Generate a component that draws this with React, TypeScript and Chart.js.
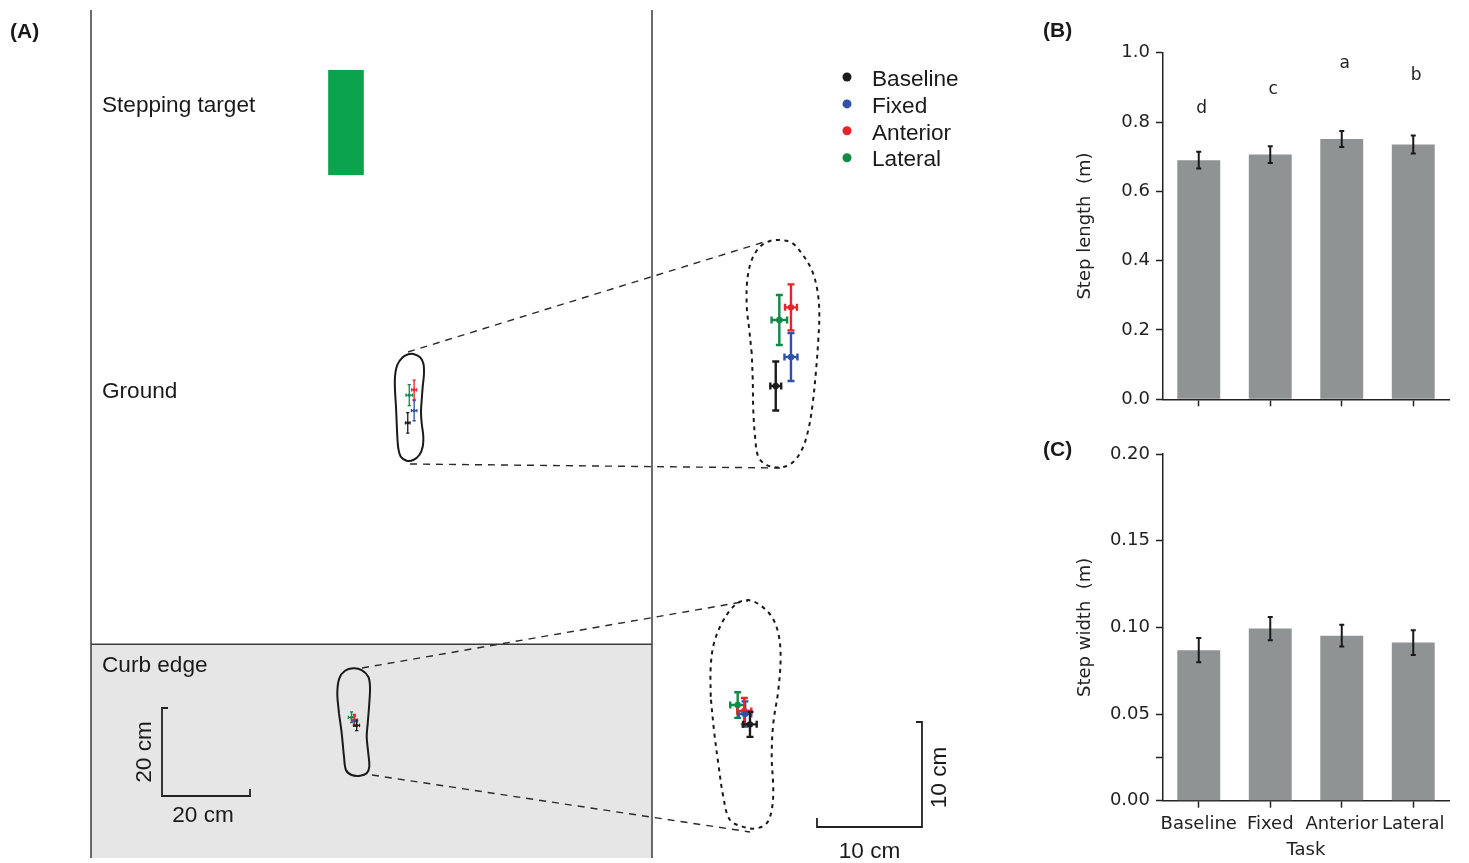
import React, { useEffect, useRef } from 'react';
import { Chart, registerables } from 'chart.js';

Chart.register(...registerables);

// ---------------- shared ----------------
const conditions = ['Baseline', 'Fixed', 'Anterior', 'Lateral'];
const conditionColors = ['#1c1c1c', '#2f51a7', '#e8232b', '#108a47'];

// ---------------- Panel B: step length (m) ----------------
const stepLengthMean = [0.69, 0.706, 0.751, 0.735];
const stepLengthSd = [0.024, 0.024, 0.023, 0.026];
const stepLengthLetters = ['d', 'c', 'a', 'b'];
const stepLengthLetterAt = [0.825, 0.881, 0.957, 0.921];
const stepLengthTicks = [0, 0.2, 0.4, 0.6, 0.8, 1.0];
const stepLengthTickLabels = ['0.0', '0.2', '0.4', '0.6', '0.8', '1.0'];

// ---------------- Panel C: step width (m) ----------------
const stepWidthMean = [0.0868, 0.0993, 0.0952, 0.0912];
const stepWidthSd = [0.007, 0.0067, 0.0063, 0.0071];
const stepWidthTicks = [0, 0.025, 0.05, 0.1, 0.15, 0.2];
const stepWidthTickLabels = ['0.00', '', '0.05', '0.10', '0.15', '0.20'];

// ---------------- Panel A: foot placement relative to foot centre (cm) ----------------
const groundMeanX = [-0.74, 0.71, 0.71, -0.4];
const groundMeanY = [-3.14, -0.38, 4.35, 3.14];
const groundSdX = [0.52, 0.62, 0.57, 0.74];
const groundSdY = [2.33, 2.29, 2.19, 2.38];
const curbMeanX = [0.38, -0.1, -0.16, -0.79];
const curbMeanY = [-0.89, 0.1, 0.38, 0.95];
const curbSdX = [0.64, 0.6, 0.67, 0.71];
const curbSdY = [1.19, 1.2, 1.24, 1.22];

// Foot outlines (cm, relative to foot centre)
const groundFootOutline = [
  [-3.41, 0.52], [-3.64, 4.32], [-3.64, 7.34], [-3.11, 10.0], [-1.89, 11.75], [-0.61, 12.43],
  [0.52, 12.5], [2.05, 11.75], [2.8, 10.39], [2.95, 8.11], [2.66, 5.07], [2.43, 2.05],
  [2.27, -0.61], [2.43, -3.25], [2.8, -6.3], [2.66, -8.57], [1.89, -10.45], [0.52, -11.59],
  [-0.98, -11.75], [-2.34, -10.84], [-2.89, -8.93], [-3.11, -6.3], [-3.25, -3.25],
];
const groundInsetOutline = [
  [-3.03, -0.03], [-3.26, 2.19], [-3.5, 4.41], [-3.45, 6.95], [-3.03, 8.86], [-2.24, 10.12],
  [-1.29, 10.67], [-0.33, 10.76], [0.78, 10.5], [1.73, 9.5], [2.69, 7.9], [3.22, 6.0],
  [3.41, 3.78], [3.31, 1.24], [3.1, -1.62], [2.78, -4.79], [2.36, -7.33], [1.73, -9.24],
  [0.78, -10.5], [-0.33, -10.89], [-1.6, -10.67], [-2.4, -9.88], [-2.71, -7.97], [-2.88, -5.43],
  [-2.93, -2.57],
];
const curbFootOutline = [
  [-3.64, 1.86], [-4.02, 6.41], [-3.57, 9.82], [-2.27, 11.55], [-0.39, 12.09], [1.52, 11.7],
  [3.02, 10.18], [3.41, 7.91], [3.25, 4.14], [2.89, -0.41], [2.66, -3.45], [3.02, -7.23],
  [3.25, -10.27], [2.66, -11.77], [1.14, -12.32], [-0.75, -12.16], [-2.05, -11.02], [-2.5, -8.0],
  [-3.02, -2.68],
];
const curbInsetOutline = [
  [-3.36, 1.74], [-3.36, 4.6], [-3.05, 6.83], [-2.31, 8.73], [-1.36, 10.16], [-0.57, 10.79],
  [0.22, 10.95], [1.33, 10.48], [2.45, 9.36], [3.08, 7.78], [3.3, 5.55], [3.08, 2.38],
  [2.6, -0.79], [2.45, -3.97], [2.6, -7.14], [2.45, -9.05], [1.97, -10.31], [1.02, -10.79],
  [-0.1, -10.7], [-1.52, -10.0], [-2.16, -7.78], [-2.64, -4.6], [-3.05, -1.43],
];
// connector end points (foot-local cm): [small foot point, inset point]
const groundConnectors = [
  [[-0.68, 12.95], [-1.76, 10.6]],
  [[-0.23, -12.5], [-0.33, -10.95]],
];
const curbConnectors = [
  [[1.59, 12.16], [0.19, 10.86]],
  [[3.86, -12.16], [0.38, -11.14]],
];

// ---------------- Panel A scene layout (ground frame, cm) ----------------
const X_MAX = 940 / 4.4;
const Y_MAX = 848 / 4.4;
const GROUND_WIDTH = 127.5;
const CURB_EDGE = 48.6;
const ZOOM = 10.5 / 4.4;
const TARGET = { x0: 53.9, x1: 62.0, y0: 155.2, y1: 179.1 };
const placements = [
  { mx: groundMeanX, my: groundMeanY, sx: groundSdX, sy: groundSdY },
  { mx: curbMeanX, my: curbMeanY, sx: curbSdX, sy: curbSdY },
];
const feet = [
  { cx: 72.73, cy: 102.05, k: 1, outline: groundFootOutline, dashed: false, surface: 0 },
  { cx: 157.39, cy: 114.77, k: ZOOM, outline: groundInsetOutline, dashed: true, surface: 0 },
  { cx: 60.0, cy: 31.02, k: 1, outline: curbFootOutline, dashed: false, surface: 1 },
  { cx: 148.86, cy: 32.5, k: ZOOM, outline: curbInsetOutline, dashed: true, surface: 1 },
];
const connectorSets = [
  { from: 0, to: 1, pts: groundConnectors },
  { from: 2, to: 3, pts: curbConnectors },
];
const drawOrder = [3, 1, 2, 0];
const SANS = '"Liberation Sans", Arial, sans-serif';
const DEJAVU = '"DejaVu Sans", sans-serif';
const INK = '#1a1a1a';

function toFig(f: any, u: number, v: number) {
  return { x: f.cx + u * f.k, y: f.cy + v * f.k };
}

const panelAPlugin = {
  id: 'panelA',
  beforeDatasetsDraw(chart: any) {
    const { ctx } = chart;
    const X = (v: number) => chart.scales.x.getPixelForValue(v);
    const Y = (v: number) => chart.scales.y.getPixelForValue(v);
    ctx.save();
    ctx.fillStyle = '#e6e6e6';
    ctx.fillRect(X(0), Y(CURB_EDGE), X(GROUND_WIDTH) - X(0), Y(0) - Y(CURB_EDGE));
    ctx.strokeStyle = '#3c3c3c';
    ctx.lineWidth = 1.5;
    ctx.beginPath();
    ctx.moveTo(X(0), Y(Y_MAX));
    ctx.lineTo(X(0), Y(0));
    ctx.moveTo(X(GROUND_WIDTH), Y(Y_MAX));
    ctx.lineTo(X(GROUND_WIDTH), Y(0));
    ctx.moveTo(X(0), Y(CURB_EDGE));
    ctx.lineTo(X(GROUND_WIDTH), Y(CURB_EDGE));
    ctx.stroke();
    ctx.fillStyle = '#0ba34c';
    ctx.fillRect(X(TARGET.x0), Y(TARGET.y1), X(TARGET.x1) - X(TARGET.x0), Y(TARGET.y0) - Y(TARGET.y1));

    feet.forEach((f) => {
      const p = placements[f.surface];
      const big = f.k > 1;
      ctx.lineWidth = big ? 2.4 : 1.3;
      const cap = big ? 3.5 : 1.6;
      drawOrder.forEach((c) => {
        const cx = f.cx + p.mx[c] * f.k;
        const cy = f.cy + p.my[c] * f.k;
        const xl = X(cx - p.sx[c] * f.k), xr = X(cx + p.sx[c] * f.k);
        const yt = Y(cy + p.sy[c] * f.k), yb = Y(cy - p.sy[c] * f.k);
        const px = X(cx), py = Y(cy);
        ctx.strokeStyle = conditionColors[c];
        ctx.beginPath();
        ctx.moveTo(xl, py); ctx.lineTo(xr, py);
        ctx.moveTo(xl, py - cap); ctx.lineTo(xl, py + cap);
        ctx.moveTo(xr, py - cap); ctx.lineTo(xr, py + cap);
        ctx.moveTo(px, yt); ctx.lineTo(px, yb);
        ctx.moveTo(px - cap, yt); ctx.lineTo(px + cap, yt);
        ctx.moveTo(px - cap, yb); ctx.lineTo(px + cap, yb);
        ctx.stroke();
      });
    });
    ctx.restore();
  },
  afterDraw(chart: any) {
    const { ctx } = chart;
    const X = (v: number) => chart.scales.x.getPixelForValue(v);
    const Y = (v: number) => chart.scales.y.getPixelForValue(v);
    ctx.save();
    ctx.fillStyle = INK;
    ctx.textBaseline = 'middle';
    ctx.textAlign = 'left';
    ctx.font = `bold 21px ${SANS}`;
    ctx.fillText('(A)', 10, 32);
    ctx.font = `22.6px ${SANS}`;
    ctx.fillText('Stepping target', 102, 106);
    ctx.fillText('Ground', 102, 392);
    ctx.fillText('Curb edge', 102, 666);

    // legend
    conditions.forEach((name, i) => {
      ctx.fillStyle = conditionColors[i];
      ctx.beginPath();
      ctx.arc(847, 77 + i * 26.9, 4.5, 0, Math.PI * 2);
      ctx.fill();
      ctx.fillStyle = INK;
      ctx.fillText(name, 872, 79.5 + i * 26.9);
    });

    // scale bars
    ctx.strokeStyle = '#222';
    ctx.lineWidth = 1.8;
    const sb = { x: 16.14, y: 14.09, len: 20 };
    const x0 = X(sb.x), y0 = Y(sb.y), xe = X(sb.x + sb.len), ye = Y(sb.y + sb.len);
    ctx.beginPath();
    ctx.moveTo(x0 + 6, ye); ctx.lineTo(x0, ye); ctx.lineTo(x0, y0); ctx.lineTo(xe, y0); ctx.lineTo(xe, y0 - 7);
    ctx.stroke();
    const ib = { x: 188.86, y: 7.05, len: 10 };
    const ix0 = X(ib.x), iy0 = Y(ib.y), ixs = X(ib.x - ib.len * ZOOM), iye = Y(ib.y + ib.len * ZOOM);
    ctx.beginPath();
    ctx.moveTo(ixs, iy0 - 9); ctx.lineTo(ixs, iy0); ctx.lineTo(ix0, iy0); ctx.lineTo(ix0, iye); ctx.lineTo(ix0 - 6, iye);
    ctx.stroke();

    ctx.fillStyle = INK;
    ctx.textAlign = 'center';
    ctx.fillText('20 cm', X(sb.x + sb.len / 2) - 3, y0 + 20);
    ctx.fillText('10 cm', X(ib.x - (ib.len * ZOOM) / 2), iy0 + 25);
    const vText = (t: string, x: number, y: number) => {
      ctx.save();
      ctx.translate(x, y);
      ctx.rotate(-Math.PI / 2);
      ctx.fillText(t, 0, 0);
      ctx.restore();
    };
    vText('20 cm', x0 - 17, Y(sb.y + sb.len / 2));
    vText('10 cm', ix0 + 18, Y(ib.y + (ib.len * ZOOM) / 2) + 3);
    ctx.restore();
  },
};

function buildPanelA(canvas: HTMLCanvasElement) {
  const datasets: any[] = [];
  conditions.forEach((name, c) => {
    datasets.push({
      label: name,
      data: feet.map((f) => {
        const p = placements[f.surface];
        return toFig(f, p.mx[c], p.my[c]);
      }),
      backgroundColor: conditionColors[c],
      borderWidth: 0,
      pointRadius: feet.map((f) => (f.k > 1 ? 3.2 : 1.6)),
      showLine: false,
    });
  });
  feet.forEach((f, i) => {
    datasets.push({
      label: 'foot' + i,
      data: [...f.outline, f.outline[0]].map(([u, v]) => toFig(f, u, v)),
      showLine: true,
      borderColor: INK,
      borderWidth: 2,
      borderDash: f.dashed ? [4, 4.5] : [],
      tension: 0.35,
      pointRadius: 0,
      fill: false,
    });
  });
  connectorSets.forEach((cs) => {
    cs.pts.forEach(([a, b], j) => {
      datasets.push({
        label: 'conn' + j,
        data: [toFig(feet[cs.from], a[0], a[1]), toFig(feet[cs.to], b[0], b[1])],
        showLine: true,
        borderColor: '#2a2a2a',
        borderWidth: 1.4,
        borderDash: [7, 6],
        tension: 0,
        pointRadius: 0,
        fill: false,
      });
    });
  });
  return new Chart(canvas, {
    type: 'scatter',
    data: { datasets },
    options: {
      responsive: false,
      animation: false,
      devicePixelRatio: 1,
      events: [],
      layout: { padding: { left: 91, top: 10, right: 9, bottom: 5 } },
      scales: {
        x: { type: 'linear', display: false, min: 0, max: X_MAX },
        y: { type: 'linear', display: false, min: 0, max: Y_MAX },
      },
      plugins: { legend: { display: false }, tooltip: { enabled: false } },
    } as any,
    plugins: [panelAPlugin],
  });
}

function buildBarChart(
  canvas: HTMLCanvasElement,
  o: {
    means: number[]; sds: number[]; max: number; ticks: number[]; tickLabels: string[];
    yTitle: string; showX: boolean; padTop: number; xHeight: number;
    panel: string; panelY: number; letters?: string[]; letterAt?: number[];
  }
) {
  const extras = {
    id: 'barExtras',
    afterDatasetsDraw(chart: any) {
      const { ctx } = chart;
      const xs = chart.scales.x, ys = chart.scales.y;
      ctx.save();
      ctx.strokeStyle = INK;
      ctx.lineWidth = 2;
      o.means.forEach((m, i) => {
        const px = xs.getPixelForValue(i);
        const yt = ys.getPixelForValue(m + o.sds[i]);
        const yb = ys.getPixelForValue(m - o.sds[i]);
        ctx.beginPath();
        ctx.moveTo(px, yt); ctx.lineTo(px, yb);
        ctx.moveTo(px - 2.5, yt); ctx.lineTo(px + 2.5, yt);
        ctx.moveTo(px - 2.5, yb); ctx.lineTo(px + 2.5, yb);
        ctx.stroke();
      });
      ctx.fillStyle = '#222';
      if (o.letters && o.letterAt) {
        ctx.font = `17px ${DEJAVU}`;
        ctx.textAlign = 'center';
        ctx.textBaseline = 'alphabetic';
        o.letters.forEach((l, i) => {
          ctx.fillText(l, xs.getPixelForValue(i) + 3, ys.getPixelForValue(o.letterAt![i]));
        });
      }
      ctx.fillStyle = INK;
      ctx.font = `bold 21px ${SANS}`;
      ctx.textAlign = 'left';
      ctx.textBaseline = 'middle';
      ctx.fillText(o.panel, 3, o.panelY);
      ctx.restore();
    },
  };
  return new Chart(canvas, {
    type: 'bar',
    data: {
      labels: conditions,
      datasets: [
        {
          data: o.means,
          backgroundColor: '#8f9393',
          borderWidth: 0,
          barPercentage: 0.6,
          categoryPercentage: 1,
        },
      ],
    },
    options: {
      responsive: false,
      animation: false,
      devicePixelRatio: 1,
      events: [],
      layout: { padding: { left: 0, right: 20, top: o.padTop, bottom: 0 } },
      scales: {
        x: {
          type: 'category',
          offset: true,
          grid: {
            display: true, drawOnChartArea: false, drawTicks: true, tickLength: 7,
            tickWidth: 1.5, tickColor: '#222', offset: false,
          },
          border: { display: true, color: '#222', width: 1.5 },
          ticks: { display: o.showX, color: '#222', font: { family: 'DejaVu Sans', size: 18 }, padding: 6, maxRotation: 0, autoSkip: false },
          title: {
            display: o.showX, text: 'Task', color: '#222',
            font: { family: 'DejaVu Sans', size: 18 }, padding: { top: 0, bottom: 2 },
          },
          afterFit: (s: any) => { s.height = o.xHeight; },
        },
        y: {
          type: 'linear',
          min: 0,
          max: o.max,
          afterBuildTicks: (s: any) => { s.ticks = o.ticks.map((v) => ({ value: v })); },
          grid: {
            display: true, drawOnChartArea: false, drawTicks: true, tickLength: 7,
            tickWidth: 1.5, tickColor: '#222',
          },
          border: { display: true, color: '#222', width: 1.5 },
          ticks: {
            color: '#222', font: { family: 'DejaVu Sans', size: 18 }, padding: 6,
            callback: (_v: any, idx: number) => o.tickLabels[idx],
          },
          title: {
            display: true, text: o.yTitle, color: '#222',
            font: { family: 'DejaVu Sans', size: 18 }, padding: { top: 35, bottom: 0 },
          },
          afterFit: (s: any) => { s.width = 123; },
        },
      },
      plugins: { legend: { display: false }, tooltip: { enabled: false } },
    } as any,
    plugins: [extras],
  });
}

export default function App() {
  const aRef = useRef<HTMLCanvasElement>(null);
  const bRef = useRef<HTMLCanvasElement>(null);
  const cRef = useRef<HTMLCanvasElement>(null);

  useEffect(() => {
    const charts: Chart[] = [];
    if (aRef.current) charts.push(buildPanelA(aRef.current));
    if (bRef.current)
      charts.push(
        buildBarChart(bRef.current, {
          means: stepLengthMean, sds: stepLengthSd, max: 1.0, ticks: stepLengthTicks,
          tickLabels: stepLengthTickLabels, yTitle: 'Step length  (m)', showX: false,
          padTop: 52.7, xHeight: 430 - 399.3, panel: '(B)', panelY: 31,
          letters: stepLengthLetters, letterAt: stepLengthLetterAt,
        })
      );
    if (cRef.current)
      charts.push(
        buildBarChart(cRef.current, {
          means: stepWidthMean, sds: stepWidthSd, max: 0.2, ticks: stepWidthTicks,
          tickLabels: stepWidthTickLabels, yTitle: 'Step width  (m)', showX: true,
          padTop: 24, xHeight: 433 - 370.7, panel: '(C)', panelY: 20.5,
        })
      );
    return () => charts.forEach((c) => c.destroy());
  }, []);

  return (
    <div style={{ position: 'absolute', left: 0, top: 0, width: 1469, height: 863, background: '#fff', overflow: 'hidden' }}>
      <canvas ref={aRef} width={1040} height={863} style={{ position: 'absolute', left: 0, top: 0, width: 1040, height: 863 }} />
      <canvas ref={bRef} width={429} height={430} style={{ position: 'absolute', left: 1040, top: 0, width: 429, height: 430 }} />
      <canvas ref={cRef} width={429} height={433} style={{ position: 'absolute', left: 1040, top: 430, width: 429, height: 433 }} />
    </div>
  );
}
